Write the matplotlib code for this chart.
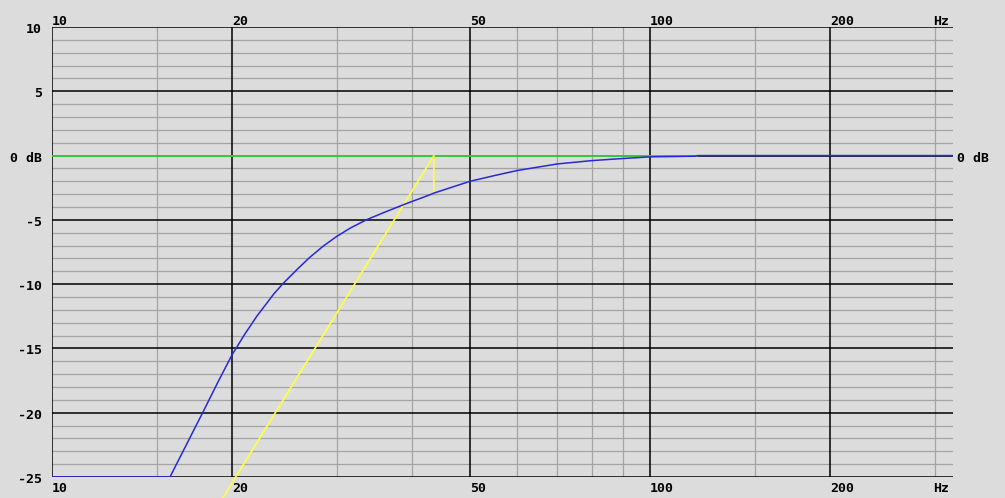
import matplotlib
matplotlib.use("Agg")
import matplotlib.pyplot as plt
import matplotlib.transforms as mtransforms

# ---- data ----
x_ticks_major = [10, 20, 50, 100, 200]
x_tick_labels = ["10", "20", "50", "100", "200"]
x_ticks_minor = [15, 30, 40, 60, 70, 80, 90, 150, 300]
x_unit_pos = 300
x_unit_label = "Hz"
y_ticks_major = [10, 5, 0, -5, -10, -15, -20, -25]
y_tick_labels = ["10", "5", "0 dB", "-5", "-10", "-15", "-20", "-25"]
y_ticks_minor = [v for v in range(-25, 11) if v % 5 != 0]

green_f = [10, 120]
green_db = [0, 0]

blue_f = [10, 15.75, 17.86, 19.0, 20.0, 21.0, 22.0, 23.5, 24.4, 25.7, 27.0, 28.4, 29.9, 31.5,
          33.6, 35.8, 38.7, 42.85, 43.5, 50.0, 55.0, 60.0, 70.0, 80.0, 90.0,
          100.0, 119.0, 120.0, 321.0]
blue_db = [-25, -25, -20.0, -17.5, -15.5, -13.9, -12.5, -10.75, -9.9, -8.85, -7.9, -7.05, -6.3, -5.65,
           -4.98, -4.45, -3.82, -3.05, -2.92, -2.0, -1.55, -1.16, -0.65, -0.39, -0.23,
           -0.1, -0.05, 0.0, 0.0]

yellow_f = [19.3, 43.5, 43.5]
yellow_db = [-26.63, 0.0, -2.85]

# ---- figure ----
W, H = 1005, 498
fig = plt.figure(figsize=(W / 100, H / 100), dpi=100)
bg = "#dcdcdc"
fig.patch.set_facecolor(bg)
ax = fig.add_axes([52 / W, (H - 477) / H, (953 - 52) / W, (477 - 27) / H])
ax.set_facecolor(bg)
ax.set_xscale("log")
ax.set_xlim(10, 321)
ax.set_ylim(-25, 10)
for s in ax.spines.values():
    s.set_visible(False)
ax.set_xticks([])
ax.set_yticks([])
ax.minorticks_off()

grid_gray = "#a4a4a4"
for v in y_ticks_minor:
    ax.axhline(v, color=grid_gray, lw=0.9, zorder=1)
for v in x_ticks_minor:
    ax.axvline(v, color=grid_gray, lw=0.9, zorder=1)
for v in y_ticks_major:
    ax.axhline(v, color="black", lw=1.1, zorder=2)
for v in x_ticks_major:
    ax.axvline(v, color="black", lw=1.1, zorder=2)

ax.plot(green_f, green_db, color="#40e040", lw=1.2, zorder=3)
ax.plot(yellow_f, yellow_db, color="#ffff40", lw=1.2, zorder=4, clip_on=False)
ax.plot(blue_f, blue_db, color="#2828d8", lw=1.1, zorder=5)

font = dict(family="DejaVu Sans Mono", fontweight="bold", fontsize=9.5, color="black")
trans_xa = mtransforms.blended_transform_factory(ax.transData, ax.transAxes)
trans_ay = mtransforms.blended_transform_factory(ax.transAxes, ax.transData)

for f, lab in list(zip(x_ticks_major, x_tick_labels)) + [(x_unit_pos, x_unit_label)]:
    xo = -2 if lab == x_unit_label else 0
    t1 = mtransforms.offset_copy(trans_xa, fig=fig, x=xo, y=2, units="dots")
    t2 = mtransforms.offset_copy(trans_xa, fig=fig, x=xo, y=-15, units="dots")
    ax.text(f, 1.0, lab, transform=t1, ha="left", va="baseline", **font)
    ax.text(f, 0.0, lab, transform=t2, ha="left", va="baseline", **font)

left_off = mtransforms.offset_copy(trans_ay, fig=fig, x=-10, y=-6, units="dots")
for v, lab in zip(y_ticks_major, y_tick_labels):
    ax.text(0.0, v, lab, transform=left_off, ha="right", va="baseline", **font)

right_off = mtransforms.offset_copy(trans_ay, fig=fig, x=4, y=-6, units="dots")
ax.text(1.0, 0, "0 dB", transform=right_off, ha="left", va="baseline", **font)

fig.savefig("out.png", dpi=100, facecolor=bg)
